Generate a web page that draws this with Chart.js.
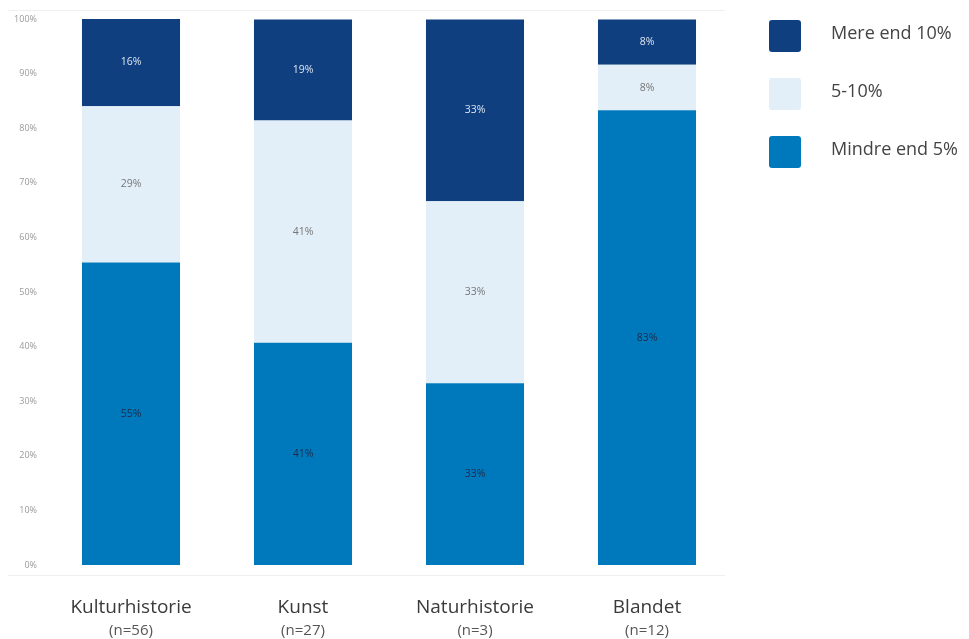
<!DOCTYPE html>
<html lang="da">
<head>
  <meta charset="UTF-8" />
  <title>Andel</title>
  <script src="https://cdn.jsdelivr.net/npm/chart.js"></script>
  <style>
    body { margin: 0; background: #fff; font-family: "Open Sans", sans-serif; }
    .wrap { position: relative; width: 969px; height: 639px; }
    #legend { position: absolute; left: 769px; top: 20px; }
    .item { display: flex; align-items: center; height: 32px; margin-bottom: 26px; }
    .box { width: 32px; height: 32px; border-radius: 3px; margin-right: 30px; }
    .item span { font-size: 18px; color: #444; position: relative; top: -4px; }
  </style>
</head>
<body>
  <div class="wrap">
    <canvas id="chart" width="969" height="639"></canvas>
    <div id="legend"></div>
  </div>

  <script>
    const categories = ["Kulturhistorie", "Kunst", "Naturhistorie", "Blandet"];
    const counts = ["(n=56)", "(n=27)", "(n=3)", "(n=12)"];
    const seriesNames = ["Mindre end 5%", "5-10%", "Mere end 10%"];
    const mindre = [55.4, 40.7, 33.3, 83.3];
    const mellem = [28.6, 40.7, 33.3, 8.3];
    const mere = [16.1, 18.5, 33.3, 8.3];
    const yTicks = [0, 10, 20, 30, 40, 50, 60, 70, 80, 90, 100];

    const colors = ["#0079bc", "#e2eef8", "#0f3f7f"];
    const labelColors = ["#1d2b48", "#777", "#dde6f0"];

    // labels inside bars + frame lines + two-line x labels
    const extras = {
      id: "extras",
      afterDatasetsDraw(chart) {
        const ctx = chart.ctx;
        const area = chart.chartArea;
        ctx.save();
        ctx.strokeStyle = "#efefef";
        ctx.lineWidth = 1;
        ctx.beginPath();
        ctx.moveTo(8, area.top - 8.5); ctx.lineTo(725, area.top - 8.5);
        ctx.moveTo(8, area.bottom + 10.5); ctx.lineTo(725, area.bottom + 10.5);
        ctx.stroke();

        ctx.font = "10.5px 'Open Sans', sans-serif";
        ctx.textAlign = "center";
        ctx.textBaseline = "middle";
        chart.data.datasets.forEach((ds, i) => {
          chart.getDatasetMeta(i).data.forEach((bar, j) => {
            ctx.fillStyle = labelColors[i];
            ctx.fillText(Math.round(ds.data[j]) + "%", bar.x, (bar.y + bar.base) / 2);
          });
        });

        const x = chart.scales.x;
        categories.forEach((c, j) => {
          const px = x.getPixelForValue(j);
          ctx.fillStyle = "#3a3a3a";
          ctx.font = "19px 'Open Sans', sans-serif";
          ctx.fillText(c, px, 608);
          ctx.fillStyle = "#555";
          ctx.font = "15px 'Open Sans', sans-serif";
          ctx.fillText(counts[j], px, 631);
        });
        ctx.restore();
      }
    };

    const chart = new Chart(document.getElementById("chart"), {
      type: "bar",
      data: {
        labels: categories,
        datasets: [
          { label: seriesNames[0], data: mindre, backgroundColor: colors[0] },
          { label: seriesNames[1], data: mellem, backgroundColor: colors[1] },
          { label: seriesNames[2], data: mere, backgroundColor: colors[2] }
        ]
      },
      options: {
        responsive: false,
        animation: false,
        layout: { padding: { top: 19, bottom: 74, right: 236, left: 0 } },
        datasets: { bar: { categoryPercentage: 1, barPercentage: 0.57 } },
        plugins: { legend: { display: false }, tooltip: { enabled: false } },
        scales: {
          x: { stacked: true, display: false },
          y: {
            stacked: true, min: 0, max: 100,
            afterFit: s => { s.width = 45; },
            afterBuildTicks: s => { s.ticks = yTicks.map(v => ({ value: v })); },
            grid: { display: false, drawTicks: false },
            border: { display: false },
            ticks: {
              padding: 8,
              color: "#9a9a9a",
              font: { size: 9, family: "'Open Sans', sans-serif" },
              callback: v => v + "%"
            }
          }
        }
      },
      plugins: [extras]
    });

    const legend = document.getElementById("legend");
    [2, 1, 0].forEach(i => {
      const item = document.createElement("div");
      item.className = "item";
      item.innerHTML = '<div class="box" style="background:' + colors[i] + '"></div><span>' + seriesNames[i] + '</span>';
      legend.appendChild(item);
    });
  </script>
</body>
</html>
